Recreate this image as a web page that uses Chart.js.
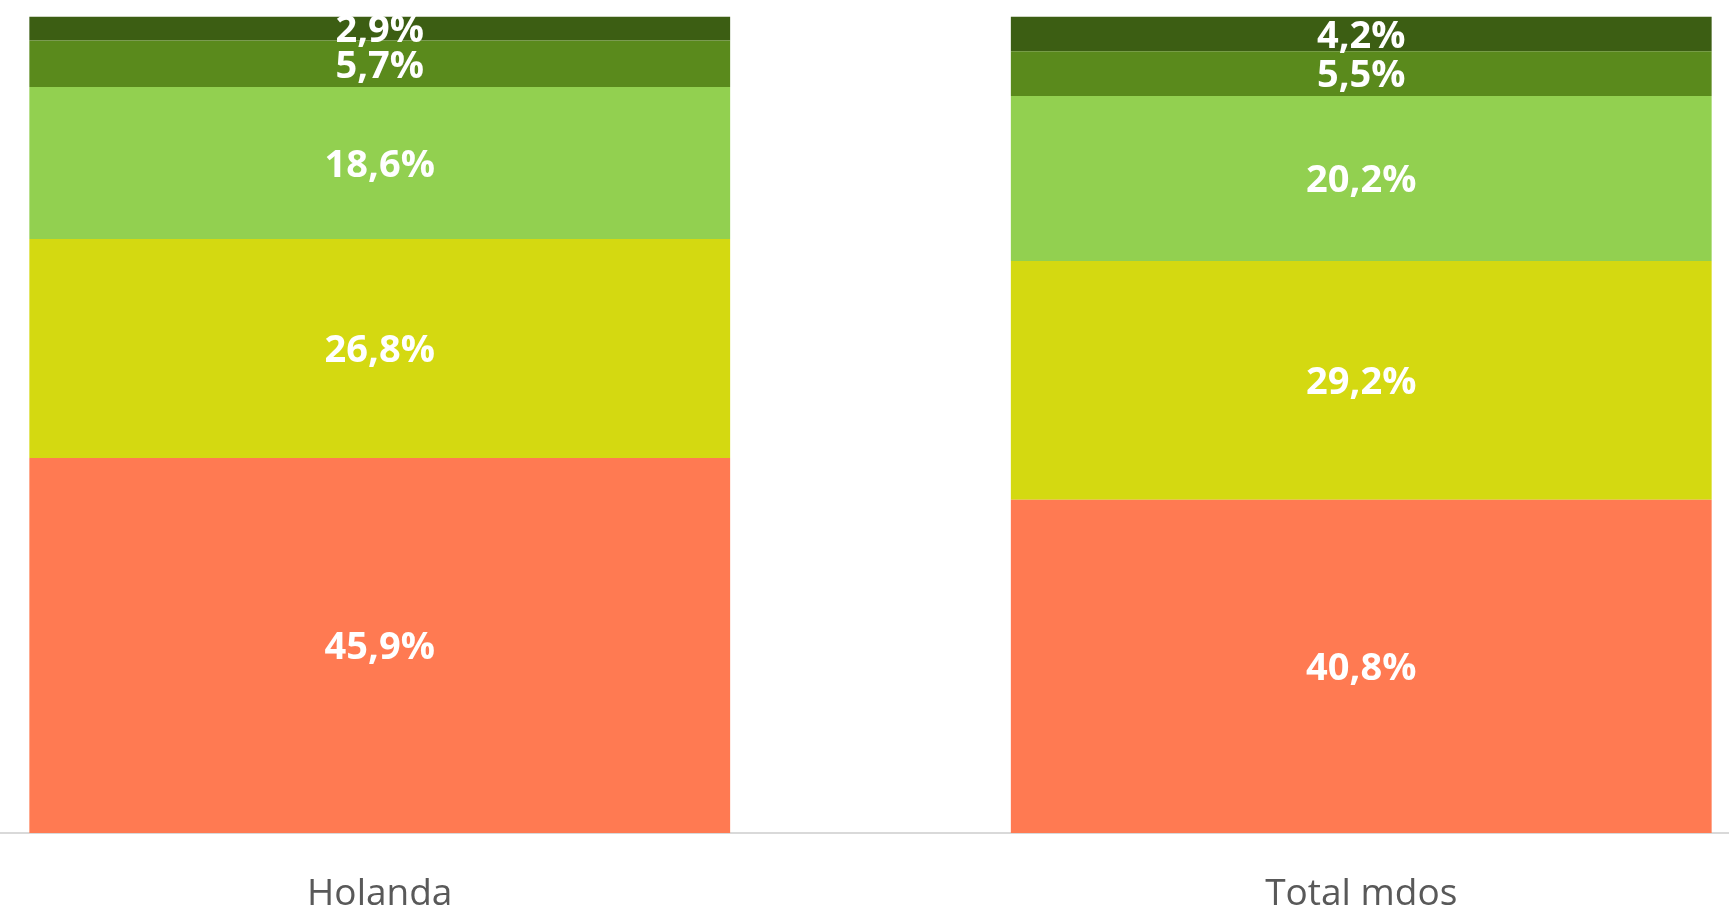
<!DOCTYPE html>
<html>
<head>
<meta charset="utf-8">
<script src="https://cdn.jsdelivr.net/npm/chart.js@4.4.0/dist/chart.umd.min.js"></script>
<style>
    html, body { margin: 0; padding: 0; background: #fff; overflow: hidden; }
    #wrap { width: 1729px; height: 915px; overflow: hidden; position: relative; }
    #chart { position: absolute; left: -111px; top: 0; }
</style>
</head>
<body>
<div id="wrap"><canvas id="chart" width="1963" height="915"></canvas></div>
<script>
// DATA
let categories = ["Holanda", "Total mdos"];
let seriesRed = [45.9, 40.8];
let seriesYellow = [26.8, 29.2];
let seriesLight = [18.6, 20.2];
let seriesMid = [5.7, 5.5];
let seriesDark = [2.9, 4.2];

let colors = ["#FF7A52", "#D4D911", "#92D050", "#5A8A1C", "#3C5E13"];
let allSeries = [seriesRed, seriesYellow, seriesLight, seriesMid, seriesDark];

// white labels centred in each segment
const segLabels = {
    id: "segLabels",
    afterDatasetsDraw(chart) {
        let ctx = chart.ctx;
        ctx.save();
        ctx.fillStyle = "#ffffff";
        ctx.font = "bold 38px 'Open Sans'";
        ctx.textAlign = "center";
        ctx.textBaseline = "middle";
        chart.data.datasets.forEach((ds, i) => {
            chart.getDatasetMeta(i).data.forEach((bar, j) => {
                let txt = ds.data[j].toFixed(1).replace(".", ",") + "%";
                ctx.fillText(txt, bar.x, (bar.y + bar.base) / 2 + 3);
            });
        });
        ctx.restore();
    }
};

new Chart(document.getElementById("chart"), {
    type: "bar",
    data: {
        labels: categories,
        datasets: allSeries.map((s, i) => ({
            data: s,
            backgroundColor: colors[i],
            borderWidth: 0,
            barPercentage: 0.714,
            categoryPercentage: 1
        }))
    },
    options: {
        responsive: false,
        animation: false,
        devicePixelRatio: 1,
        layout: { padding: { top: 16, bottom: 0, left: 0, right: 0 } },
        plugins: { legend: { display: false }, tooltip: { enabled: false } },
        scales: {
            x: {
                stacked: true,
                grid: { display: false },
                border: { display: true, color: "#D9D9D9", width: 2 },
                ticks: { color: "#595959", font: { family: "Open Sans", size: 37 }, padding: 31 },
                afterFit(scale) { scale.height = 82; }
            },
            y: {
                stacked: true,
                display: false,
                min: 0,
                max: 100
            }
        }
    },
    plugins: [segLabels]
});
</script>
</body>
</html>
